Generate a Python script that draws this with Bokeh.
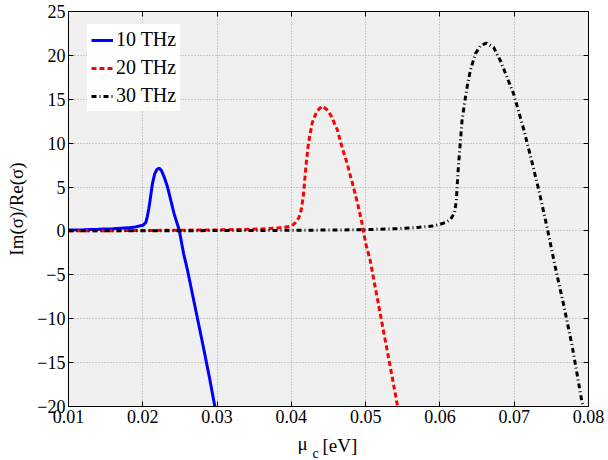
from bokeh.plotting import figure
from bokeh.layouts import column
from bokeh.models import FixedTicker, LinearAxis, Legend, LegendItem, Range1d
from bokeh.core.properties import value
from bokeh.embed import file_html
from bokeh.resources import INLINE

# ---- data ----
mu_10 = [0.010, 0.012, 0.014, 0.016, 0.018, 0.019, 0.020, 0.0204, 0.0206, 0.0208,
         0.0209, 0.0211, 0.0213, 0.0216, 0.0219, 0.0222, 0.0225, 0.0229, 0.0233, 0.0238,
         0.0242, 0.0249, 0.0255, 0.0260, 0.0270, 0.0280, 0.0290, 0.0297]
ratio_10 = [0.12, 0.15, 0.19, 0.25, 0.35, 0.45, 0.64, 0.95, 1.6, 2.5,
            3.0, 4.2, 5.4, 6.5, 7.0, 7.15, 6.9, 6.1, 5.1, 3.4,
            2.0, 0.1, -2.6, -4.4, -8.5, -12.6, -16.8, -20.0]

mu_20 = [0.010, 0.015, 0.020, 0.025, 0.030, 0.034, 0.037, 0.039, 0.040, 0.0405,
         0.0410, 0.0413, 0.0416, 0.0418, 0.0420, 0.0423, 0.0428, 0.0434, 0.0441, 0.0447,
         0.0453, 0.0462, 0.0468, 0.0475, 0.0482, 0.0489, 0.0495, 0.0500, 0.0506, 0.0520,
         0.0535, 0.0543]
ratio_20 = [0.02, 0.03, 0.05, 0.08, 0.12, 0.18, 0.27, 0.40, 0.55, 0.9,
            1.5, 2.3, 3.9, 5.8, 7.7, 10.0, 12.3, 13.6, 14.2, 13.9,
            13.2, 11.5, 9.6, 7.7, 5.5, 3.2, 0.9, -1.4, -3.3, -9.6,
            -16.3, -20.0]

mu_30 = [0.010, 0.020, 0.030, 0.040, 0.045, 0.050, 0.054, 0.057, 0.059, 0.060,
         0.0607, 0.0614, 0.06195, 0.06222, 0.06231, 0.06245, 0.06262, 0.0628, 0.06298, 0.0633,
         0.06366, 0.0641, 0.06478, 0.06545, 0.06626, 0.06724, 0.06814, 0.06904, 0.06993, 0.0713,
         0.0722, 0.0733, 0.0744, 0.0755, 0.0767, 0.0778, 0.0791, 0.0793]
ratio_30 = [0.01, 0.02, 0.04, 0.07, 0.10, 0.15, 0.25, 0.40, 0.55, 0.76,
            0.95, 1.3, 2.0, 3.5, 5.0, 6.9, 8.8, 10.7, 12.6, 14.5,
            16.4, 18.3, 20.2, 21.1, 21.4, 20.9, 19.4, 17.5, 15.6, 11.5,
            8.5, 4.7, 0.5, -4.0, -8.6, -13.1, -19.4, -20.0]

series_names = ["10 THz", "20 THz", "30 THz"]

x_ticks = [0.01, 0.02, 0.03, 0.04, 0.05, 0.06, 0.07, 0.08]
y_ticks = [-20, -15, -10, -5, 0, 5, 10, 15, 20, 25]
y_tick_labels = ["\u221220", "\u221215", "\u221210", "\u22125", "0", "5", "10", "15", "20", "25"]

x_label_parts = ["\u03bc", "c", "[eV]"]

FONT = "Liberation Serif"

xr = Range1d(0.01, 0.08)
p = figure(width=608, height=430, x_range=xr, y_range=Range1d(-20, 25),
           output_backend="svg", toolbar_location=None,
           min_border_left=68, min_border_right=20, min_border_top=11, min_border_bottom=24)

p.background_fill_color = "#f0f0f0"
p.border_fill_color = "white"
p.outline_line_color = "black"
p.outline_line_width = 1

for ax, ticks in ((p.below[0], x_ticks), (p.left[0], y_ticks)):
    ax.ticker = FixedTicker(ticks=ticks)
    ax.major_tick_in = 5
    ax.major_tick_out = 0
    ax.minor_tick_line_color = None
    ax.axis_line_color = "black"
    ax.major_tick_line_color = "black"
    ax.major_label_text_font = FONT
    ax.major_label_text_font_size = "18px"
    ax.major_label_text_color = "black"

p.below[0].major_label_standoff = 3
p.left[0].major_label_standoff = 3
p.left[0].major_label_overrides = {float(t): s for t, s in zip(y_ticks, y_tick_labels)}
p.left[0].axis_label = "Im(\u03c3)/Re(\u03c3)"
p.left[0].axis_label_text_font = FONT
p.left[0].axis_label_text_font_size = "19px"
p.left[0].axis_label_text_font_style = "normal"
p.left[0].axis_label_text_color = "black"
p.left[0].axis_label_standoff = 7

# tick marks on the top and right edges of the box (no labels there)
for loc, ticks in (("above", x_ticks), ("right", y_ticks)):
    ax = LinearAxis(ticker=FixedTicker(ticks=ticks))
    ax.major_tick_in = 5
    ax.major_tick_out = 0
    ax.minor_tick_line_color = None
    ax.major_label_text_font_size = "0px"
    ax.major_label_text_color = None
    ax.major_label_text_alpha = 0
    ax.major_label_standoff = 0
    ax.axis_line_color = "black"
    p.add_layout(ax, loc)

p.grid.grid_line_color = "#a0a0a0"
p.grid.grid_line_dash = "1 2"
p.grid.grid_line_width = 1

r1 = p.line(mu_10, ratio_10, line_color="#0000ff", line_width=3)
r2 = p.line(mu_20, ratio_20, line_color="#ff0000", line_width=3, line_dash="5 3")
r3 = p.line(mu_30, ratio_30, line_color="black", line_width=3, line_dash="5 3 1 3")

legend = Legend(items=[LegendItem(label=n, renderers=[r]) for n, r in zip(series_names, [r1, r2, r3])],
                location=(19, 295))
legend.background_fill_color = "white"
legend.background_fill_alpha = 1
legend.border_line_alpha = 0
legend.label_text_font = FONT
legend.label_text_font_size = "20px"
legend.label_text_color = "black"
legend.glyph_width = 22
legend.glyph_height = 20
legend.label_height = 20
legend.label_standoff = 3
legend.padding = 4
legend.spacing = 5
legend.margin = 0
p.add_layout(legend, "center")

# strip below the axes carrying the x-axis label (mu with subscript c)
p2 = figure(width=608, height=30, x_range=xr, y_range=Range1d(0, 30),
            output_backend="svg", toolbar_location=None,
            x_axis_location=None, y_axis_location=None,
            min_border_left=68, min_border_right=20, min_border_top=0, min_border_bottom=0)
p2.outline_line_color = None
p2.background_fill_color = "white"
p2.border_fill_color = "white"
p2.grid.visible = False

xmid = (x_ticks[0] + x_ticks[-1]) / 2
p2.text(x=[xmid, xmid], y=[17, 15], text=[x_label_parts[0], x_label_parts[2]],
        x_offset=[-31, -6], text_font=value(FONT), text_font_size="19px",
        text_align="left", text_baseline="alphabetic", text_color="black")
p2.text(x=[xmid], y=[7], text=[x_label_parts[1]], x_offset=-16,
        text_font=value(FONT), text_font_size="14px",
        text_align="left", text_baseline="alphabetic", text_color="black")

layout = column(p, p2, spacing=0)
open("out.html", "w").write(file_html(layout, INLINE))
